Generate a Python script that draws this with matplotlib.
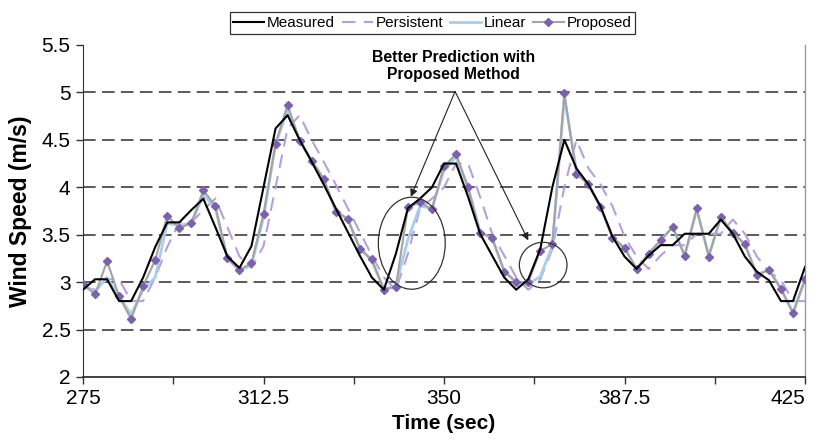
import numpy as np
import matplotlib
matplotlib.use('Agg')
import matplotlib.pyplot as plt
from matplotlib.patches import Ellipse
from matplotlib.ticker import FormatStrFormatter

plt.rcParams['font.family'] = ['Liberation Sans', 'DejaVu Sans']

# tempo (s), passo de 2.5 s
t = np.arange(275, 425.1, 2.5)

measured = [2.92, 3.03, 3.03, 2.80, 2.80, 3.05, 3.37, 3.63, 3.63, 3.76,
            3.88, 3.58, 3.27, 3.15, 3.38, 4.00, 4.62, 4.76, 4.50, 4.27,
            4.03, 3.78, 3.53, 3.28, 3.05, 2.92, 3.30, 3.78, 3.88, 4.00,
            4.25, 4.25, 3.90, 3.51, 3.28, 3.05, 2.92, 3.03, 3.35, 4.00,
            4.50, 4.20, 4.03, 3.80, 3.48, 3.27, 3.14, 3.28, 3.39, 3.39,
            3.51, 3.51, 3.51, 3.66, 3.51, 3.27, 3.11, 3.02, 2.80, 2.80,
            3.16]

persistent = [2.95, 2.92, 3.03, 3.03, 2.80, 2.80, 3.05, 3.37, 3.63, 3.63,
              3.76, 3.88, 3.58, 3.27, 3.15, 3.38, 4.00, 4.62, 4.76, 4.50,
              4.27, 4.03, 3.78, 3.53, 3.28, 3.05, 2.92, 3.30, 3.78, 3.88,
              4.00, 4.25, 4.25, 3.90, 3.51, 3.28, 3.05, 2.92, 3.03, 3.35,
              4.00, 4.50, 4.20, 4.03, 3.80, 3.48, 3.27, 3.14, 3.28, 3.39,
              3.39, 3.51, 3.51, 3.51, 3.66, 3.51, 3.27, 3.11, 3.02, 2.80,
              2.80]

linear = [2.96, 2.90, 3.05, 2.85, 2.66, 2.92, 3.05, 3.62, 3.60, 3.62,
          3.92, 3.78, 3.25, 3.12, 3.18, 3.68, 4.45, 4.82, 4.50, 4.28,
          4.08, 3.76, 3.66, 3.36, 3.22, 2.93, 2.96, 3.45, 3.80, 3.78,
          4.18, 4.32, 4.00, 3.53, 3.46, 3.12, 3.00, 2.98, 3.06, 3.38,
          4.95, 4.18, 4.03, 3.79, 3.47, 3.36, 3.14, 3.30, 3.44, 3.58,
          3.28, 3.76, 3.28, 3.68, 3.52, 3.40, 3.08, 3.13, 2.93, 2.68,
          3.03]

proposed = [2.98, 2.87, 3.22, 2.85, 2.61, 2.96, 3.23, 3.70, 3.57, 3.62,
            3.97, 3.80, 3.25, 3.13, 3.20, 3.72, 4.46, 4.87, 4.49, 4.28,
            4.09, 3.74, 3.67, 3.35, 3.24, 2.92, 2.95, 3.79, 3.84, 3.77,
            4.22, 4.35, 4.00, 3.52, 3.47, 3.11, 3.00, 3.00, 3.33, 3.40,
            4.99, 4.14, 4.03, 3.79, 3.47, 3.36, 3.14, 3.30, 3.44, 3.58,
            3.28, 3.78, 3.27, 3.69, 3.52, 3.40, 3.07, 3.13, 2.93, 2.67,
            3.03]

x_major = [275, 312.5, 350, 387.5, 425]
x_minor = [293.75, 331.25, 368.75, 406.25]
y_ticks = [2, 2.5, 3, 3.5, 4, 4.5, 5, 5.5]
grid_levels = [2.5, 3.0, 3.5, 4.0, 4.5, 5.0]

fig = plt.figure(figsize=(8.13, 4.42), dpi=100)
ax = fig.add_axes([0.1021, 0.1471, 0.8881, 0.7511])

for g in grid_levels:
    ax.axhline(g, color='#4d4d4d', lw=1.3, ls=(0, (7, 3.5)), zorder=1)

ax.plot(t, persistent, color='#b79fd9', lw=1.5, ls=(0, (6.5, 4)),
        label='Persistent', zorder=2)
ax.plot(t, linear, color='#a9cdec', lw=2.0, label='Linear', zorder=3)
ax.plot(t, proposed, color='#a3a3a3', lw=1.5, marker='D', ms=4.2,
        mfc='#7c61ad', mec='#7c61ad', label='Proposed', zorder=4)
ax.plot(t, measured, color='black', lw=1.5, label='Measured', zorder=5)

# anotacao
ax.text(352, 5.28, 'Better Prediction with\nProposed Method', ha='center',
        va='center', fontsize=11.3, fontweight='bold', linespacing=1.15)
for xy in [(343.1, 3.90), (367.5, 3.44)]:
    ax.annotate('', xy=xy, xytext=(352.3, 5.01),
                arrowprops=dict(arrowstyle='-|>', color='#222222', lw=0.8,
                                shrinkA=0, shrinkB=0, mutation_scale=11))
ax.add_patch(Ellipse((343.3, 3.41), 13.9, 0.97, fill=False, ec='#333333',
                     lw=0.9, zorder=6))
ax.add_patch(Ellipse((370.6, 3.18), 9.9, 0.48, fill=False, ec='#333333',
                     lw=0.9, zorder=6))

ax.set_xlim(275, 425)
ax.set_ylim(2, 5.5)
ax.set_xticks(x_major)
ax.set_xticks(x_minor, minor=True)
ax.xaxis.set_major_formatter(FormatStrFormatter('%g'))
ax.set_yticks(y_ticks)
ax.yaxis.set_major_formatter(FormatStrFormatter('%g'))
ax.tick_params(axis='both', which='both', direction='out', length=5,
               width=1, labelsize=15, color='#333333')
ax.tick_params(axis='x', pad=4)
ax.tick_params(axis='y', pad=4)
# ultimo rotulo encostado na borda
ax.get_xticklabels()[-1].set_horizontalalignment('right')
ax.get_xticklabels()[-1].set_x(426)

ax.spines['top'].set_visible(False)
ax.spines['right'].set_color('#999999')
ax.spines['right'].set_linewidth(1)
ax.spines['left'].set_color('#333333')
ax.spines['bottom'].set_color('#333333')
ax.spines['bottom'].set_linewidth(1.3)

ax.set_xlabel('Time (sec)', fontsize=15, fontweight='bold')
ax.xaxis.set_label_coords(0.5, -0.11)
ax.set_ylabel('Wind Speed (m/s)', fontsize=16.5, fontweight='bold')
ax.yaxis.set_label_coords(-0.07, 0.5)

handles, labels = ax.get_legend_handles_labels()
order = [labels.index(n) for n in ['Measured', 'Persistent', 'Linear', 'Proposed']]
leg = fig.legend([handles[i] for i in order], [labels[i] for i in order],
                 loc='upper center', bbox_to_anchor=(0.532, 0.99), ncol=4,
                 fontsize=11, frameon=True, fancybox=False, handlelength=2.0,
                 handletextpad=0.2, columnspacing=0.45, borderpad=0.25)
leg.get_frame().set_edgecolor('black')
leg.get_frame().set_linewidth(0.9)

fig.savefig('out.png', dpi=100)
